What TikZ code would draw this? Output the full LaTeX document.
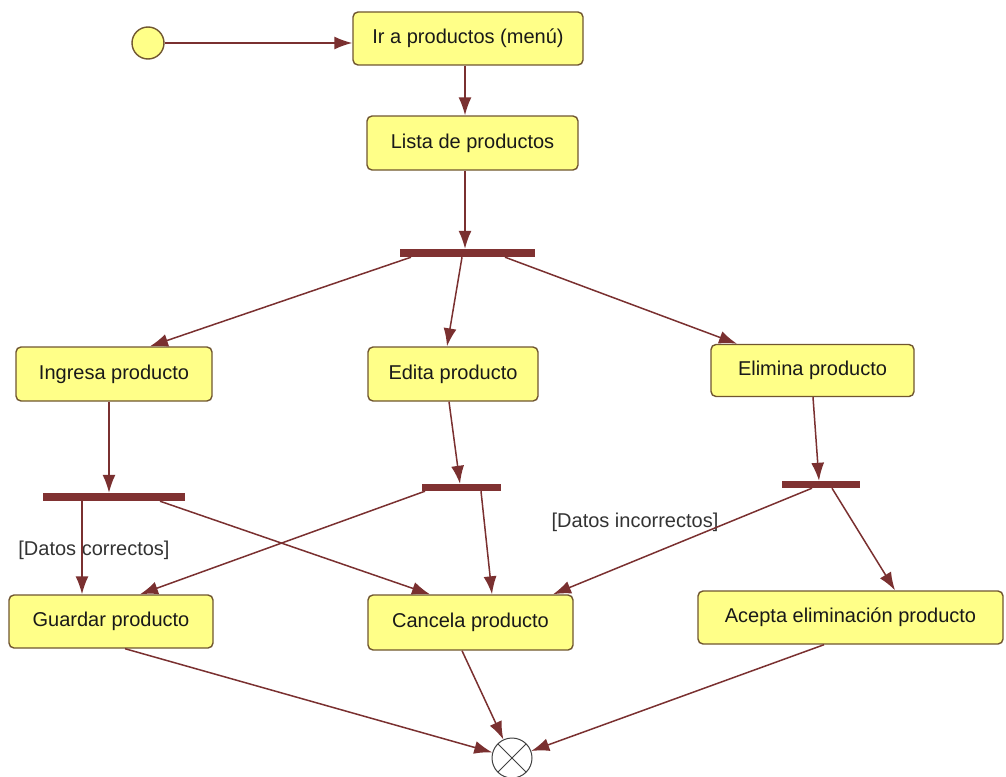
\documentclass[tikz,border=0pt]{standalone}
\usepackage{fontspec}
\setmainfont{Liberation Sans}
\usetikzlibrary{arrows.meta,calc}

\definecolor{actfill}{RGB}{255,255,136}
\definecolor{actedge}{RGB}{112,86,48}
\definecolor{flow}{RGB}{122,48,48}
\definecolor{barcol}{RGB}{128,50,50}

\tikzset{
  x=1pt, y=-1pt,
  activity/.style={draw=actedge, line width=1.4pt, fill=actfill, rounded corners=5pt,
    inner sep=0pt, font=\fontsize{20}{24}\selectfont, text=black!90},
  syncbar/.style={fill=barcol, draw=none, inner sep=0pt},
  guard/.style={inner sep=0pt, font=\fontsize{20}{24}\selectfont, text=black!80},
  flowline/.style={draw=flow, line width=1.5pt,
    -{Latex[length=18pt, width=13pt]}},
}

\begin{document}
\begin{tikzpicture}
\useasboundingbox (0,0) rectangle (1006,776);

% initial and final states
\node[circle, draw=actedge, line width=1.4pt, fill=actfill, minimum size=32pt, inner sep=0pt] (start) at (148,43) {};
\node[circle, draw=black!75, line width=1pt, fill=white, minimum size=40pt, inner sep=0pt,
  path picture={\draw[black!75, line width=0.9pt]
    (path picture bounding box.north west) -- (path picture bounding box.south east)
    (path picture bounding box.north east) -- (path picture bounding box.south west);}] (fin) at (512,758) {};

% activities
\node[activity, minimum width=230pt, minimum height=53pt] (ir) at (468,38.5) {Ir a productos (menú)};
\node[activity, minimum width=211pt, minimum height=54pt] (lista) at (472.5,143) {Lista de productos};
\node[activity, minimum width=196pt, minimum height=54pt] (ingresa) at (114,374) {Ingresa producto};
\node[activity, minimum width=170pt, minimum height=54pt] (edita) at (453,374) {Edita producto};
\node[activity, minimum width=203pt, minimum height=52pt] (elimina) at (812.5,370.5) {Elimina producto};
\node[activity, minimum width=204pt, minimum height=53pt] (guardar) at (111,621.5) {Guardar producto};
\node[activity, minimum width=205pt, minimum height=55pt] (cancela) at (470.5,622.5) {Cancela producto};
\node[activity, minimum width=305pt, minimum height=53pt] (acepta) at (850.5,617.5) {Acepta eliminación producto};

% synchronisation bars
\node[syncbar, minimum width=135pt, minimum height=8pt] (fork1) at (467.5,253) {};
\node[syncbar, minimum width=142pt, minimum height=8pt] (fork2) at (114,497) {};
\node[syncbar, minimum width=79pt, minimum height=7pt] (fork3) at (461.5,487.5) {};
\node[syncbar, minimum width=78pt, minimum height=7pt] (fork4) at (821,484.5) {};

% guard labels
\node[guard] (gok) at (94,550) {[Datos correctos]};
\node[guard] (gbad) at (635,522) {[Datos incorrectos]};

% transitions
\draw[flowline] (start.east) -- (start -| ir.west);
\draw[flowline] ([xshift=-3pt]ir.south) -- ([xshift=-7.5pt]lista.north);
\draw[flowline] ([xshift=-7.5pt]lista.south) -- ([xshift=-2.5pt]fork1.north);

\draw[flowline] ([xshift=-56.5pt]fork1.south) -- ([xshift=36pt]ingresa.north);
\draw[flowline] ([xshift=-5.5pt]fork1.south) -- ([xshift=-6pt]edita.north);
\draw[flowline] ([xshift=37.5pt]fork1.south) -- ([xshift=-75.5pt]elimina.north);

\draw[flowline] ([xshift=-5pt]ingresa.south) -- ([xshift=-5pt]fork2.north);
\draw[flowline] ([xshift=-4pt]edita.south) -- ([xshift=-1.5pt]fork3.north);
\draw[flowline] ([xshift=0.5pt]elimina.south) -- ([xshift=-2pt]fork4.north);

\draw[flowline] ([xshift=-32pt]fork2.south) -- ([xshift=-29pt]guardar.north);
\draw[flowline] ([xshift=46pt]fork2.south) -- ([xshift=-40.5pt]cancela.north);
\draw[flowline] ([xshift=-36.5pt]fork3.south) -- ([xshift=29pt]guardar.north);
\draw[flowline] ([xshift=19.5pt]fork3.south) -- ([xshift=21.5pt]cancela.north);
\draw[flowline] ([xshift=-9pt]fork4.south) -- ([xshift=82.5pt]cancela.north);
\draw[flowline] ([xshift=11pt]fork4.south) -- ([xshift=44.5pt]acepta.north);

\draw[flowline] ([xshift=14pt]guardar.south) -- (fin);
\draw[flowline] ([xshift=-8.5pt]cancela.south) -- (fin);
\draw[flowline] ([xshift=-26.5pt]acepta.south) -- (fin);
\end{tikzpicture}
\end{document}
